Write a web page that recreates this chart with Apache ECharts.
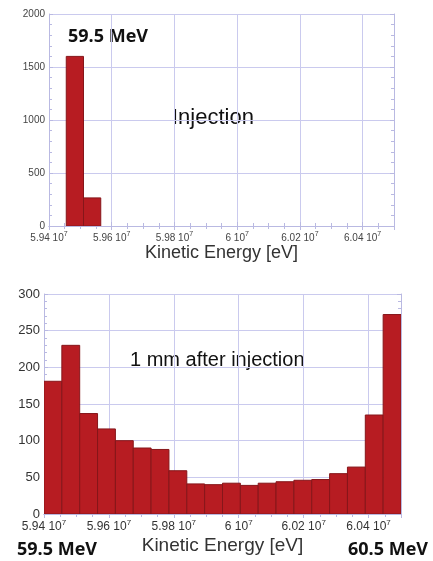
<!DOCTYPE html>
<html>
<head>
<meta charset="utf-8">
<script src="https://cdn.jsdelivr.net/npm/echarts@6/dist/echarts.min.js"></script>
<style>
  html, body { margin: 0; padding: 0; background: #fff; }
  #main { width: 433px; height: 561px; }
</style>
</head>
<body>
<div id="main"></div>
<script>
// histogram bins (eV)
const binStart = 5.94e7;
const binWidth = 0.0055e7;
const axisMin = 5.94e7;
const axisMax = 6.05e7;
const tickStep = 0.02e7;

// counts per bin
const injectionCounts = [0, 1600, 265, 0, 0, 0, 0, 0, 0, 0, 0, 0, 0, 0, 0, 0, 0, 0, 0, 0];
const afterCounts = [181, 230, 137, 116, 100, 90, 88, 59, 41, 40, 42, 39, 42, 44, 46, 47, 55, 64, 135, 272];

const gridColor = '#cacaee';
const frameColor = '#b9b9e2';

function toBins(counts) {
  return counts
    .map((c, i) => [binStart + i * binWidth, binStart + (i + 1) * binWidth, c])
    .filter(d => d[2] > 0);
}

function renderBar(params, api) {
  const p0 = api.coord([api.value(0), api.value(2)]);
  const p1 = api.coord([api.value(1), 0]);
  return {
    type: 'rect',
    shape: { x: p0[0], y: p0[1], width: p1[0] - p0[0], height: p1[1] - p0[1] },
    style: { fill: '#b71c22', stroke: '#86161a', lineWidth: 1 }
  };
}

function xLabel(v) {
  if (v > 6.045e7) return '';
  const m = +(v / 1e7).toFixed(2);
  return '{m|' + m + ' 10}{s|7}';
}

function xAxes(gridIndex, fontSize, supSize, color) {
  const common = {
    gridIndex: gridIndex, type: 'value', min: axisMin, max: axisMax, interval: tickStep,
    axisLine: { show: true, lineStyle: { color: frameColor } },
    axisTick: { show: true, inside: true, length: 4, lineStyle: { color: frameColor } },
    minorTick: { show: true, splitNumber: 4, length: 3, lineStyle: { color: frameColor } }
  };
  return [
    Object.assign({}, common, {
      position: 'bottom',
      splitLine: { show: true, lineStyle: { color: gridColor } },
      axisLabel: {
        margin: 5, formatter: xLabel, color: color,
        rich: {
          m: { fontSize: fontSize, fontFamily: 'Liberation Sans', color: color },
          s: { fontSize: supSize, fontFamily: 'Liberation Sans', color: color, padding: [0, 0, supSize, 0] }
        }
      }
    }),
    Object.assign({}, common, {
      position: 'top',
      splitLine: { show: false },
      axisLabel: { show: false }
    })
  ];
}

function yAxes(gridIndex, max, step, fontSize, minorSplit, color) {
  const common = {
    gridIndex: gridIndex, type: 'value', min: 0, max: max, interval: step,
    axisLine: { show: true, lineStyle: { color: frameColor } },
    axisTick: { show: true, inside: true, length: 4, lineStyle: { color: frameColor } },
    minorTick: { show: true, splitNumber: minorSplit, length: 3, lineStyle: { color: frameColor } }
  };
  return [
    Object.assign({}, common, {
      position: 'left',
      splitLine: { show: true, lineStyle: { color: gridColor } },
      axisLabel: {
        margin: 4, fontSize: fontSize, fontFamily: 'Liberation Sans', color: color,
        formatter: v => String(v)
      }
    }),
    Object.assign({}, common, {
      position: 'right',
      splitLine: { show: false },
      axisLabel: { show: false }
    })
  ];
}

const topX = xAxes(0, 10, 7, '#444');
topX[0].name = 'Kinetic Energy [eV]';
topX[0].nameLocation = 'middle';
topX[0].nameGap = 17;
topX[0].nameTextStyle = { fontSize: 18, fontFamily: 'Liberation Sans', color: '#333' };

const botX = xAxes(1, 12, 8, '#333');
botX[0].name = 'Kinetic Energy [eV]';
botX[0].nameLocation = 'middle';
botX[0].nameGap = 22;
botX[0].nameTextStyle = { fontSize: 19, fontFamily: 'Liberation Sans', color: '#333' };

const chart = echarts.init(document.getElementById('main'));
chart.setOption({
  backgroundColor: '#fff',
  animation: false,
  grid: [
    { left: 49, top: 14, width: 345, height: 212 },
    { left: 44, top: 294, width: 357, height: 220 }
  ],
  xAxis: topX.concat(botX),
  yAxis: yAxes(0, 2000, 500, 10, 5, '#444').concat(yAxes(1, 300, 50, 13, 5, '#333')),
  series: [
    {
      type: 'custom', xAxisIndex: 0, yAxisIndex: 0,
      renderItem: renderBar, clip: true,
      encode: { x: [0, 1], y: 2 },
      data: toBins(injectionCounts)
    },
    {
      type: 'custom', xAxisIndex: 2, yAxisIndex: 2,
      renderItem: renderBar, clip: true,
      encode: { x: [0, 1], y: 2 },
      data: toBins(afterCounts)
    }
  ],
  graphic: [
    { type: 'text', x: 68, y: 37, style: { text: '59.5 MeV', font: 'bold 18px "Open Sans"', fill: '#111', textVerticalAlign: 'middle' } },
    { type: 'text', x: 172, y: 118, style: { text: 'Injection', font: '22px "Liberation Sans"', fill: '#111', textVerticalAlign: 'middle' } },
    { type: 'text', x: 130, y: 360, style: { text: '1 mm after injection', font: '20px "Liberation Sans"', fill: '#111', textVerticalAlign: 'middle' } },
    { type: 'text', x: 17, y: 550, style: { text: '59.5 MeV', font: 'bold 18px "Open Sans"', fill: '#111', textVerticalAlign: 'middle' } },
    { type: 'text', x: 348, y: 550, style: { text: '60.5 MeV', font: 'bold 18px "Open Sans"', fill: '#111', textVerticalAlign: 'middle' } }
  ]
});
</script>
</body>
</html>
